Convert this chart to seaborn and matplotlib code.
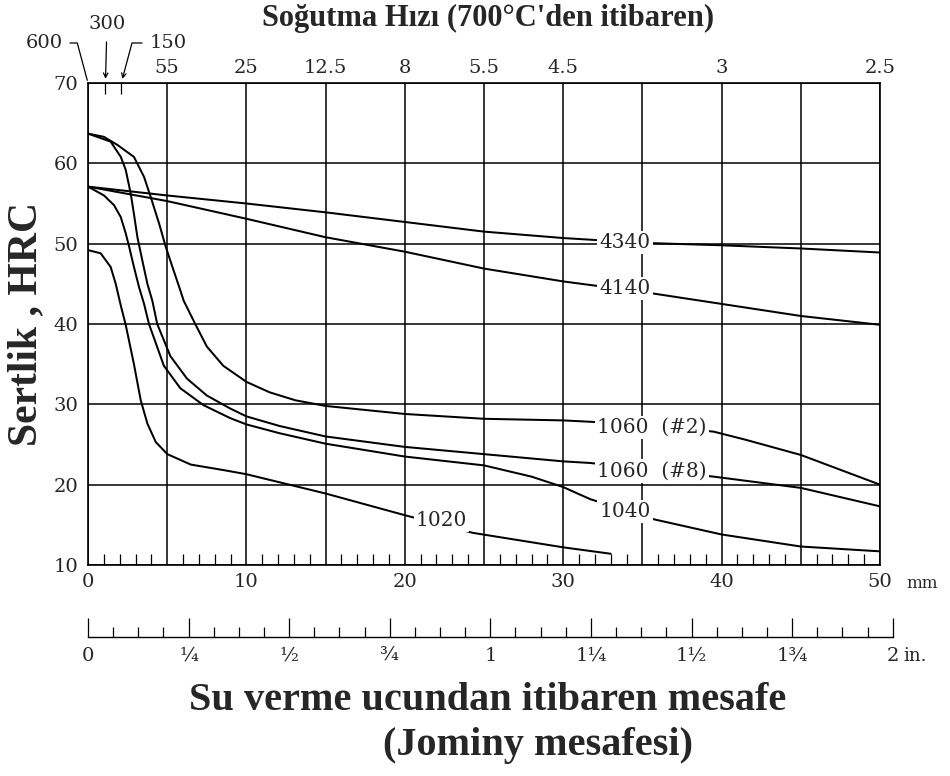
import numpy as np
import pandas as pd
import matplotlib
matplotlib.use("Agg")
import matplotlib.pyplot as plt
import seaborn as sns
from matplotlib.ticker import MultipleLocator, FixedLocator

# ---------------- data ----------------
x_4340 = [0, 5, 10, 15, 20, 25, 30, 35, 40, 45, 50]
hrc_4340 = [57.1, 56.0, 55.0, 53.9, 52.7, 51.5, 50.7, 50.1, 49.8, 49.4, 48.9]

x_4140 = [0, 5, 10, 15, 20, 25, 30, 35, 40, 45, 50]
hrc_4140 = [57.1, 55.3, 53.1, 50.8, 49.0, 46.9, 45.3, 44.0, 42.5, 41.0, 39.9]

x_1060_2 = [0, 1.0, 1.85, 2.9, 3.54, 3.96, 4.49, 4.91, 5.33, 5.86, 6.04, 6.77, 7.5, 8.54,
            10, 11.46, 13.1, 15, 20, 25, 30, 35, 39.5, 41.5, 45, 50]
hrc_1060_2 = [63.7, 63.3, 62.3, 60.8, 58.3, 55.8, 52.5, 49.6, 47.1, 44.0, 42.9, 40.0, 37.2, 34.8,
              32.8, 31.5, 30.5, 29.8, 28.8, 28.2, 28.0, 27.5, 26.6, 25.6, 23.7, 20.0]

x_1060_8 = [0, 1.43, 2.07, 2.38, 2.7, 2.9, 3.12, 3.43, 3.75, 4.06, 4.37, 5.2, 6.25, 7.5,
            8.96, 10, 12.1, 15, 20, 25, 30, 31.7, 35, 39.5, 45, 50]
hrc_1060_8 = [63.7, 62.7, 60.8, 59.2, 56.2, 53.7, 50.8, 47.9, 45.0, 42.9, 40.0, 36.0, 33.2, 31.1,
              29.5, 28.5, 27.3, 26.0, 24.7, 23.8, 22.9, 22.7, 22.0, 21.0, 19.6, 17.3]

x_1040 = [0, 1.01, 1.64, 2.07, 2.38, 2.6, 2.9, 3.22, 3.54, 3.85, 4.79, 5.83, 7.29, 8.96,
          10, 12.1, 15, 20, 25, 28, 30, 31.7, 35.7, 40, 45, 50]
hrc_1040 = [57.1, 56.0, 54.8, 53.3, 51.3, 49.6, 47.1, 44.6, 42.5, 40.0, 34.8, 32.0, 29.9, 28.3,
            27.5, 26.4, 25.1, 23.5, 22.4, 21.0, 19.7, 18.2, 15.7, 13.8, 12.3, 11.7]

x_1020 = [0, 0.8, 1.43, 1.75, 2.07, 2.38, 2.9, 3.33, 3.75, 4.28, 5.01, 6.49, 8.6, 10,
          15, 20, 24.3, 30, 33]
hrc_1020 = [49.2, 48.8, 47.1, 45.0, 42.3, 39.9, 35.0, 30.5, 27.6, 25.3, 23.8, 22.5, 21.8, 21.3,
            18.9, 16.2, 14.0, 12.2, 11.4]

steel_names = ["4340", "4140", "1060  (#2)", "1060  (#8)", "1040", "1020"]
x_mm_ticks = [0, 10, 20, 30, 40, 50]
y_ticks = [10, 20, 30, 40, 50, 60, 70]
rate_pos = [5, 10, 15, 20, 25, 30, 40, 50]
rate_labels = ["55", "25", "12.5", "8", "5.5", "4.5", "3", "2.5"]
inch_labels = ["0", "¼", "½", "¾", "1", "1¼", "1½", "1¾", "2"]

series = {
    "4340": (x_4340, hrc_4340),
    "4140": (x_4140, hrc_4140),
    "1060  (#2)": (x_1060_2, hrc_1060_2),
    "1060  (#8)": (x_1060_8, hrc_1060_8),
    "1040": (x_1040, hrc_1040),
    "1020": (x_1020, hrc_1020),
}
df = pd.concat([pd.DataFrame({"mm": xs, "HRC": ys, "steel": name})
                for name, (xs, ys) in series.items()], ignore_index=True)

# ---------------- style ----------------
sns.set_theme(style="white")
plt.rcParams["font.family"] = ["DejaVu Serif", "Liberation Serif"]
plt.rcParams["axes.linewidth"] = 1.1
BOLD = ["Liberation Serif", "DejaVu Serif"]

W, H = 950, 776
fig = plt.figure(figsize=(W / 100, H / 100), dpi=100)
fig.patch.set_facecolor("white")

L, R, T, B = 88, 880, 83, 565
ax = fig.add_axes([L / W, (H - B) / H, (R - L) / W, (B - T) / H])

sns.lineplot(data=df, x="mm", y="HRC", hue="steel", units="steel", estimator=None,
             palette={n: "black" for n in steel_names}, legend=False, sort=False,
             linewidth=1.45, ax=ax, zorder=3)

ax.set_xlim(0, 50)
ax.set_ylim(10, 70)
ax.set_xlabel("")
ax.set_ylabel("Sertlik , HRC", fontsize=30, fontweight="bold", family=BOLD, labelpad=6)

# grid lines every 5 mm / 10 HRC
grid_x = np.arange(0, 51, 5)
ax.set_xticks(grid_x)
ax.set_xticklabels([str(int(v)) if v in x_mm_ticks else "" for v in grid_x])
ax.xaxis.set_minor_locator(MultipleLocator(1))
ax.set_yticks(y_ticks)
ax.grid(True, which="major", color="black", linewidth=1.1)
ax.tick_params(axis="x", which="major", length=0, pad=6, labelsize=14)
ax.tick_params(axis="x", which="minor", direction="in", length=8, width=0.9,
               bottom=True, top=False, color="black")
ax.tick_params(axis="y", which="major", length=0, pad=7, labelsize=14)
for s in ax.spines.values():
    s.set_color("black")
    s.set_linewidth(1.2)

ax.annotate("mm", xy=(50, 0), xycoords=("data", "axes fraction"),
            xytext=(19, -7), textcoords="offset points", ha="left", va="top", fontsize=12)

# curve labels with white background (break the lines)
label_pos = {"4340": (33.9, 50.2), "4140": (33.9, 44.4), "1060  (#2)": (35.6, 27.1),
             "1060  (#8)": (35.6, 21.7), "1040": (33.9, 16.6), "1020": (22.3, 15.5)}
for name in steel_names:
    lx, ly = label_pos[name]
    ax.text(lx, ly, name, ha="center", va="center", fontsize=14.5, zorder=5,
            bbox=dict(boxstyle="square,pad=0.1", fc="white", ec="none"))

# ---------------- top axis: cooling rate ----------------
axt = ax.twiny()
axt.set_xlim(0, 50)
axt.set_xticks(rate_pos)
axt.set_xticklabels(rate_labels)
axt.tick_params(axis="x", which="major", length=0, pad=4, labelsize=14)
axt.xaxis.set_minor_locator(FixedLocator([1.1, 2.1]))
axt.tick_params(axis="x", which="minor", direction="in", length=8, width=0.9,
                top=True, color="black")
axt.grid(False)
for s in axt.spines.values():
    s.set_visible(False)

ann_kw = dict(xycoords="data", textcoords="figure pixels", ha="center", va="center",
              fontsize=14, annotation_clip=False)
axt.annotate("600", xy=(0, 70), xytext=(44, H - 43),
             arrowprops=dict(arrowstyle="-", lw=0.9, color="black", shrinkA=3, shrinkB=2,
                             connectionstyle="angle,angleA=0,angleB=105,rad=0"), **ann_kw)
axt.annotate("300", xy=(1.1, 70), xytext=(107, H - 24),
             arrowprops=dict(arrowstyle="->", lw=0.9, color="black", shrinkA=4, shrinkB=3,
                             mutation_scale=8), **ann_kw)
axt.annotate("150", xy=(2.1, 70), xytext=(168, H - 43),
             arrowprops=dict(arrowstyle="->", lw=0.9, color="black", shrinkA=3, shrinkB=3,
                             mutation_scale=8,
                             connectionstyle="angle,angleA=0,angleB=75,rad=0"), **ann_kw)

fig.text(488 / W, 1 - 18 / H, "Soğutma Hızı (700°C'den itibaren)", ha="center", va="center",
         fontsize=22, fontweight="bold", family=BOLD)

# ---------------- inch scale ----------------
px_per_mm = (R - L) / 50.0
inch_w = 2 * 25.4 * px_per_mm
axi = fig.add_axes([L / W, (H - 637) / H, inch_w / W, 0.02])
axi.set_xlim(0, 2)
axi.set_ylim(0, 1)
axi.patch.set_alpha(0)
axi.set_yticks([])
axi.set_xticks(np.arange(0, 2.01, 0.25))
axi.set_xticklabels(inch_labels)
axi.xaxis.set_minor_locator(MultipleLocator(1 / 16))
axi.tick_params(axis="x", which="major", direction="in", length=14, width=0.9,
                pad=7, labelsize=14, color="black", bottom=True)
axi.tick_params(axis="x", which="minor", direction="in", length=7, width=0.9,
                color="black", bottom=True)
axi.grid(False)
for k, s in axi.spines.items():
    s.set_visible(k == "bottom")
axi.spines["bottom"].set_linewidth(1.0)
axi.spines["bottom"].set_color("black")
axi.annotate("in.", xy=(2, 0), xycoords=("data", "axes fraction"),
             xytext=(8, -7), textcoords="offset points", ha="left", va="top", fontsize=13)

fig.text(488 / W, 1 - 700 / H, "Su verme ucundan itibaren mesafe", ha="center", va="center",
         fontsize=29, fontweight="bold", family=BOLD)
fig.text(538 / W, 1 - 745 / H, "(Jominy mesafesi)", ha="center", va="center",
         fontsize=29, fontweight="bold", family=BOLD)

fig.savefig("out.png", dpi=100, facecolor="white")
